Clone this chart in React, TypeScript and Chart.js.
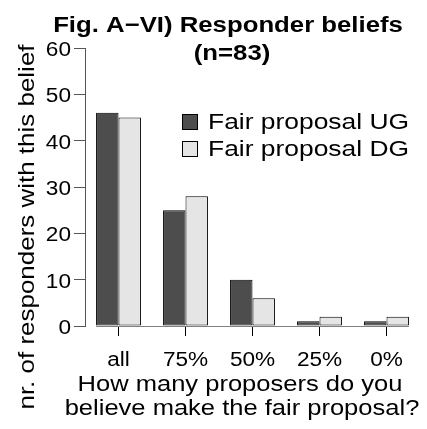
import React, { useEffect, useRef } from "react";
import { Chart, registerables } from "chart.js";

Chart.register(...registerables);

const categories = ["all", "75%", "50%", "25%", "0%"];
const ugValues = [46, 25, 10, 1, 1];
const dgValues = [45, 28, 6, 2, 2];
const seriesLabels = ["Fair proposal UG", "Fair proposal DG"];
const seriesColors = ["#4d4d4d", "#e5e5e5"];
const titleLines = ["Fig. A\u2212VI) Responder beliefs", "(n=83)"];
const yTitle = "nr. of responders with this belief";
const xTitleLines = ["How many proposers do you", "believe make the fair proposal?"];

const FONT = '"Liberation Sans", Arial, Helvetica, sans-serif';

function drawText(
  ctx: CanvasRenderingContext2D,
  text: string,
  x: number,
  y: number,
  font: string,
  sx: number,
  align: CanvasTextAlign,
  rotated = false
) {
  ctx.save();
  ctx.translate(x, y);
  if (rotated) ctx.rotate(-Math.PI / 2);
  ctx.scale(sx, 1);
  ctx.font = font;
  ctx.textAlign = align;
  ctx.textBaseline = "alphabetic";
  ctx.fillStyle = "#000";
  ctx.fillText(text, 0, 0);
  ctx.restore();
}

const textPlugin = {
  id: "textPlugin",
  beforeDatasetsDraw(chart: any) {
    const ctx = chart.ctx;
    const y0 = chart.scales.y.getPixelForValue(0);
    const first = chart.getDatasetMeta(0).data[0] as any;
    const lastMeta = chart.getDatasetMeta(1).data;
    const last = lastMeta[lastMeta.length - 1] as any;
    ctx.save();
    ctx.strokeStyle = "#808080";
    ctx.lineWidth = 1;
    ctx.beginPath();
    ctx.moveTo(first.x - first.width / 2, Math.round(y0) + 0.5);
    ctx.lineTo(last.x + last.width / 2, Math.round(y0) + 0.5);
    ctx.stroke();
    ctx.restore();
  },
  afterDraw(chart: any) {
    const ctx = chart.ctx as CanvasRenderingContext2D;
    const xs = chart.scales.x;
    const ys = chart.scales.y;
    const tickFont = `20px ${FONT}`;
    // y tick labels
    ys.ticks.forEach((t: any, i: number) => {
      const py = ys.getPixelForTick(i);
      drawText(ctx, String(t.value), 71, py + 8, tickFont, 1.13, "right");
    });
    // x tick labels
    categories.forEach((c, i) => {
      const px = xs.getPixelForTick(i);
      drawText(ctx, c, px, 366, tickFont, 1.13, "center");
    });
    // title
    const tf = `bold 22px ${FONT}`;
    drawText(ctx, titleLines[0], 228, 32, tf, 1.17, "center");
    drawText(ctx, titleLines[1], 232, 60, tf, 1.17, "center");
    // x title
    const lf = `22px ${FONT}`;
    drawText(ctx, xTitleLines[0], 240, 391, lf, 1.16, "center");
    drawText(ctx, xTitleLines[1], 242, 415, lf, 1.16, "center");
    // y title
    drawText(ctx, yTitle, 34, 227, lf, 1.18, "center", true);
    // legend
    seriesLabels.forEach((lab, i) => {
      const ty = 129 + i * 27;
      ctx.save();
      ctx.fillStyle = seriesColors[i];
      ctx.fillRect(182.5, ty - 14.5, 15, 15);
      ctx.strokeStyle = "#000";
      ctx.lineWidth = 1;
      ctx.strokeRect(182.5, ty - 14.5, 15, 15);
      ctx.restore();
      drawText(ctx, lab, 208, ty, `22px ${FONT}`, 1.2, "left");
    });
  },
};

export default function App() {
  const ref = useRef<HTMLCanvasElement | null>(null);
  useEffect(() => {
    if (!ref.current) return;
    const chart = new Chart(ref.current, {
      type: "bar",
      data: {
        labels: categories,
        datasets: [
          {
            label: seriesLabels[0],
            data: ugValues,
            backgroundColor: seriesColors[0],
            borderColor: "#000",
            borderWidth: 1,
            borderSkipped: false,
            categoryPercentage: 0.67,
            barPercentage: 1,
          },
          {
            label: seriesLabels[1],
            data: dgValues,
            backgroundColor: seriesColors[1],
            borderColor: "#000",
            borderWidth: 1,
            borderSkipped: false,
            categoryPercentage: 0.67,
            barPercentage: 1,
          },
        ],
      },
      options: {
        animation: false,
        responsive: false,
        devicePixelRatio: 1,
        layout: { padding: { top: 48, right: 7, left: 0, bottom: 0 } },
        plugins: {
          legend: { display: false },
          title: { display: false },
          tooltip: { enabled: false },
        },
        scales: {
          x: {
            type: "category",
            offset: true,
            grid: {
              offset: false,
              drawOnChartArea: false,
              drawTicks: true,
              tickLength: 10,
              color: "#000",
            },
            border: { display: false },
            ticks: {
              color: "rgba(0,0,0,0)",
              font: { family: FONT, size: 20 },
              padding: 10,
              maxRotation: 0,
            },
            afterFit(scale: any) {
              scale.height = 103;
            },
          },
          y: {
            min: 0,
            max: 60,
            ticks: {
              stepSize: 10,
              color: "rgba(0,0,0,0)",
              font: { family: FONT, size: 20 },
              padding: 3,
            },
            grid: {
              drawOnChartArea: false,
              drawTicks: true,
              tickLength: 11,
              color: "#555",
            },
            border: { display: true, color: "#555", width: 1 },
            afterFit(scale: any) {
              scale.width = 85;
            },
          },
        },
      },
      plugins: [textPlugin],
    });
    return () => chart.destroy();
  }, []);
  return (
    <div style={{ position: "fixed", left: 0, top: 0, width: 427, height: 429, background: "#fff" }}>
      <canvas ref={ref} width={427} height={429} style={{ width: 427, height: 429, display: "block" }} />
    </div>
  );
}
